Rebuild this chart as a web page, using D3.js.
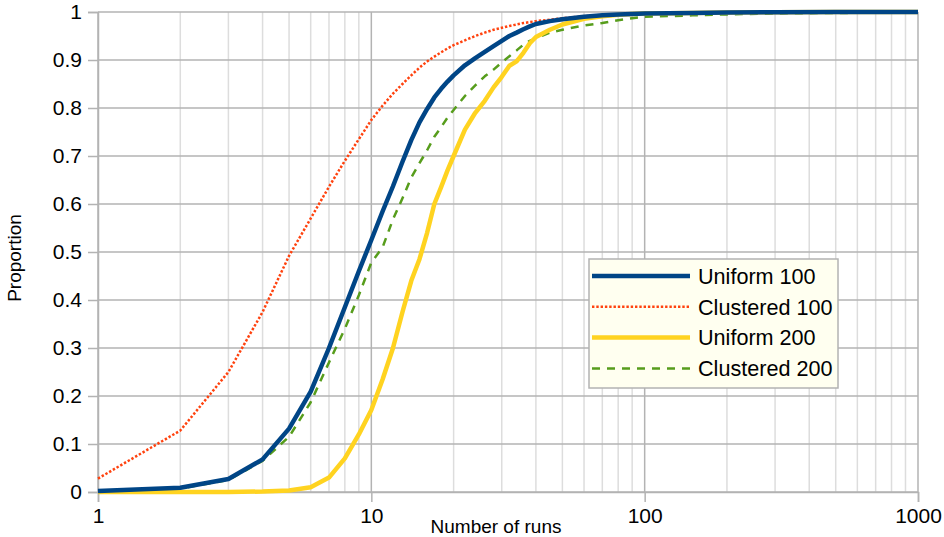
<!DOCTYPE html>
<html>
<head>
<meta charset="utf-8">
<script src="https://cdn.jsdelivr.net/npm/d3@7/dist/d3.min.js"></script>
<style>
  body { margin: 0; background: #fff; }
  text { font-family: "Liberation Sans", Arial, sans-serif; fill: #000; }
</style>
</head>
<body>
<svg id="chart" width="944" height="537"></svg>
<script>
// number of runs (x), shared by all series
var runs = [1, 2, 3, 4, 5, 6, 7, 8, 9, 10, 11, 12, 13, 14, 15, 16, 17, 18, 19, 20,
            22, 24, 26, 28, 30, 32, 34, 36, 38, 40, 45, 50, 60, 70, 80, 90, 100,
            150, 200, 300, 500, 1000];

var uniform100 = [0.002, 0.009, 0.027, 0.068, 0.132, 0.209, 0.300, 0.385, 0.460, 0.525,
                  0.585, 0.637, 0.688, 0.733, 0.770, 0.798, 0.822, 0.840, 0.855, 0.868,
                  0.889, 0.904, 0.917, 0.929, 0.940, 0.950, 0.957, 0.964, 0.970, 0.975,
                  0.981, 0.985, 0.990, 0.993, 0.995, 0.996, 0.997, 0.998, 0.999, 0.9995, 1, 1];

var clustered100 = [0.028, 0.128, 0.250, 0.375, 0.492, 0.570, 0.636, 0.690, 0.735, 0.775,
                    0.805, 0.830, 0.850, 0.868, 0.884, 0.897, 0.907, 0.916, 0.924, 0.931,
                    0.941, 0.950, 0.957, 0.963, 0.967, 0.971, 0.974, 0.977, 0.979, 0.981,
                    0.984, 0.987, 0.991, 0.993, 0.995, 0.996, 0.997, 0.998, 0.999, 0.9995, 1, 1];

var uniform200 = [0, 0, 0, 0.001, 0.003, 0.010, 0.030, 0.070, 0.120, 0.171,
                  0.235, 0.300, 0.375, 0.440, 0.485, 0.540, 0.600, 0.635, 0.670, 0.700,
                  0.755, 0.790, 0.815, 0.843, 0.865, 0.888, 0.897, 0.915, 0.935, 0.948,
                  0.963, 0.974, 0.986, 0.991, 0.994, 0.996, 0.997, 0.998, 0.999, 0.9995, 1, 1];

var clustered200 = [0.001, 0.007, 0.025, 0.065, 0.115, 0.187, 0.270, 0.340, 0.410, 0.478,
                    0.510, 0.568, 0.612, 0.655, 0.685, 0.712, 0.740, 0.760, 0.780, 0.796,
                    0.825, 0.847, 0.866, 0.880, 0.895, 0.908, 0.920, 0.932, 0.940, 0.945,
                    0.957, 0.963, 0.972, 0.977, 0.983, 0.987, 0.990, 0.993, 0.995, 0.997, 0.998, 0.999];

var seriesNames = ["Uniform 100", "Clustered 100", "Uniform 200", "Clustered 200"];
var seriesValues = [uniform100, clustered100, uniform200, clustered200];
var seriesColors = ["#004586", "#ff420e", "#ffd320", "#579d1c"];

var xMajorTicks = [1, 10, 100, 1000];
var xMinorTicks = [2, 3, 4, 5, 6, 7, 8, 9, 20, 30, 40, 50, 60, 70, 80, 90,
                   200, 300, 400, 500, 600, 700, 800, 900];
var yTicks = [0, 0.1, 0.2, 0.3, 0.4, 0.5, 0.6, 0.7, 0.8, 0.9, 1];

// line look per series
var lineWidth = [4.5, 2.5, 4.5, 2.5];
var lineDash = [null, "2.4,1.9", null, "8,7"];

var margin = {top: 12, right: 26, bottom: 45, left: 98};
var width = 944 - margin.left - margin.right;
var height = 537 - margin.top - margin.bottom;

var svg = d3.select("#chart");
var g = svg.append("g").attr("transform", "translate(" + margin.left + "," + margin.top + ")");

var xScale = d3.scaleLog().domain([1, 1000]).range([0, width]);
var yScale = d3.scaleLinear().domain([0, 1]).range([height, 0]);

// minor vertical grid
g.append("g")
  .selectAll("line")
  .data(xMinorTicks)
  .enter()
  .append("line")
  .attr("x1", function(d) { return xScale(d); })
  .attr("x2", function(d) { return xScale(d); })
  .attr("y1", 0)
  .attr("y2", height)
  .attr("stroke", "#dddddd")
  .attr("stroke-width", 1.5);

// major vertical grid
g.append("g")
  .selectAll("line")
  .data(xMajorTicks)
  .enter()
  .append("line")
  .attr("x1", function(d) { return xScale(d); })
  .attr("x2", function(d) { return xScale(d); })
  .attr("y1", 0)
  .attr("y2", height)
  .attr("stroke", "#b3b3b3")
  .attr("stroke-width", 1.5);

// horizontal grid
g.append("g")
  .selectAll("line")
  .data(yTicks)
  .enter()
  .append("line")
  .attr("x1", 0)
  .attr("x2", width)
  .attr("y1", function(d) { return yScale(d); })
  .attr("y2", function(d) { return yScale(d); })
  .attr("stroke", "#b3b3b3")
  .attr("stroke-width", 1.5);

// axes
var xAxis = d3.axisBottom(xScale)
  .tickValues(xMajorTicks)
  .tickFormat(d3.format("d"))
  .tickSize(10)
  .tickPadding(6);

var yAxis = d3.axisLeft(yScale)
  .tickValues(yTicks)
  .tickFormat(function(d) { return d3.format("")(d); })
  .tickSize(10)
  .tickPadding(6);

var gX = g.append("g")
  .attr("transform", "translate(0," + height + ")")
  .call(xAxis);

var gY = g.append("g").call(yAxis);

[gX, gY].forEach(function(ax) {
  ax.select(".domain").attr("stroke", "#b3b3b3").attr("stroke-width", 1.5);
  ax.selectAll(".tick line").attr("stroke", "#b3b3b3").attr("stroke-width", 1.5);
  ax.selectAll(".tick text")
    .attr("font-family", "Liberation Sans, Arial, sans-serif")
    .attr("font-size", 21)
    .attr("fill", "#000");
});

// axis titles
svg.append("text")
  .attr("x", 496)
  .attr("y", 533)
  .attr("text-anchor", "middle")
  .attr("font-size", 19)
  .text("Number of runs");

svg.append("text")
  .attr("transform", "translate(21,258) rotate(-90)")
  .attr("text-anchor", "middle")
  .attr("font-size", 19)
  .text("Proportion");

// series lines, drawn last-to-first so Uniform 100 lies on top
var line = d3.line()
  .x(function(d) { return xScale(d.x); })
  .y(function(d) { return yScale(d.y); });

var order = [3, 2, 1, 0];
order.forEach(function(i) {
  var pts = runs.map(function(r, k) { return {x: r, y: seriesValues[i][k]}; });
  g.append("path")
    .datum(pts)
    .attr("d", line)
    .attr("fill", "none")
    .attr("stroke", seriesColors[i])
    .attr("stroke-width", lineWidth[i])
    .attr("stroke-dasharray", lineDash[i])
    .attr("stroke-linejoin", "round");
});

// legend
var legend = svg.append("g").attr("transform", "translate(589,259)");
legend.append("rect")
  .attr("width", 249)
  .attr("height", 129)
  .attr("fill", "#fffff0")
  .attr("stroke", "#b3b3b3")
  .attr("stroke-width", 1.5);

seriesNames.forEach(function(name, i) {
  var yy = 17 + i * 30.8;
  legend.append("line")
    .attr("x1", 3)
    .attr("x2", 101)
    .attr("y1", yy)
    .attr("y2", yy)
    .attr("stroke", seriesColors[i])
    .attr("stroke-width", lineWidth[i])
    .attr("stroke-dasharray", lineDash[i]);
  legend.append("text")
    .attr("x", 109)
    .attr("y", yy)
    .attr("dy", "0.36em")
    .attr("font-size", 21.6)
    .text(name);
});
</script>
</body>
</html>
